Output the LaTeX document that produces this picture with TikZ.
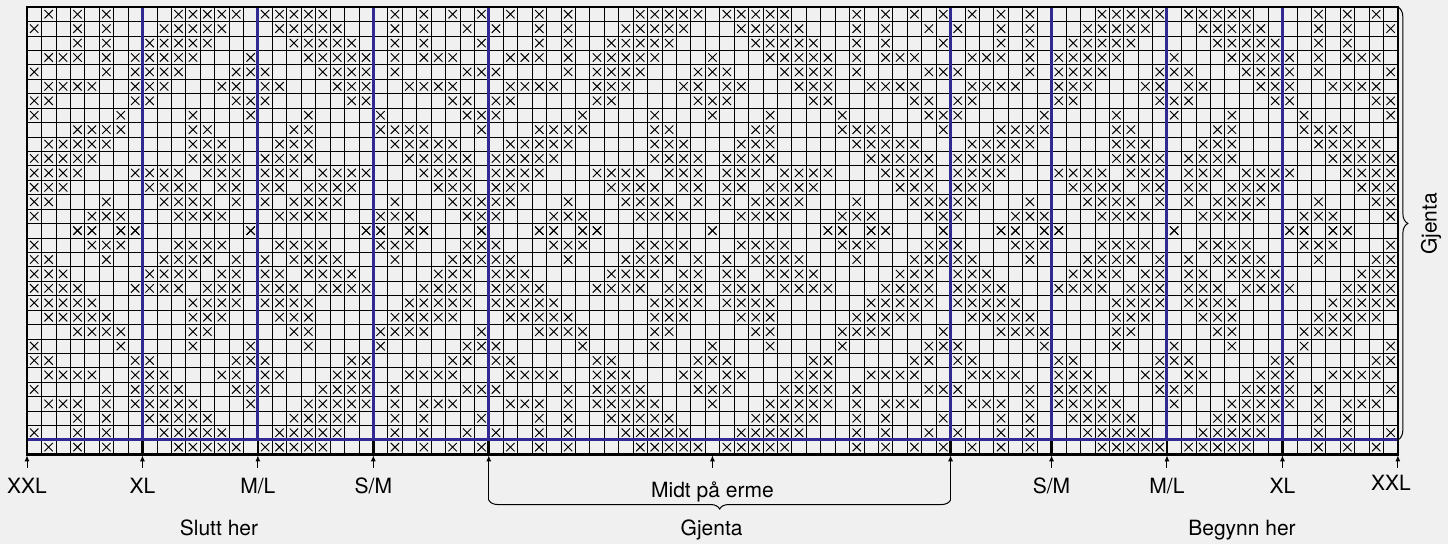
\documentclass[tikz,border=0pt]{standalone}
\usepackage{fontspec}
\setmainfont{TeX Gyre Heros}
\usetikzlibrary{arrows.meta, positioning, calc, decorations.pathreplacing}
\definecolor{ChartBlue}{RGB}{50,40,145}
\definecolor{PaperGray}{RGB}{240,240,240}

\begin{document}
\begin{tikzpicture}[
    x=1pt, y=1pt,
    font=\fontsize{21}{24}\selectfont,
    gridline/.style={black, line width=0.65pt},
    stitch/.style={black, line width=0.95pt},
    sizeline/.style={ChartBlue, line width=3pt},
    chartframe/.style={black, line width=2.6pt},
    marker/.style={-{Latex[length=6pt, width=5pt]}, line width=1pt, shorten >=1pt},
    chartlabel/.style={anchor=base, inner sep=0pt},
    bracket/.style={decorate, line width=1pt},
]
\useasboundingbox[fill=PaperGray] (0,0) rectangle (1448,544);

\begin{scope}[shift={(27pt,537pt)}, x=14.43pt, y=-14.43pt]
% rutenett
\foreach \c in {0,...,95} \draw[gridline] (\c,0) -- (\c,31);
\foreach \r in {0,...,31} \draw[gridline] (0,\r) -- (95,\r);

% masker: rad r og speilrad 30-r, rapport 32
\foreach \r/\cols in {
    0/{1,3,5,10,11,12,13,14,16,17,18,19,20,25,27,29,31},
    1/{0,3,5,9,10,11,12,13,17,18,19,20,21,25,27,30},
    2/{3,5,8,9,10,11,12,18,19,20,21,22,25,27,31},
    3/{1,2,3,5,7,8,9,10,11,15,19,20,21,22,23,25,27,28,29},
    4/{0,5,7,8,9,10,14,15,16,20,21,22,23,25,30,31},
    5/{1,2,3,4,7,8,9,13,14,16,17,21,22,23,26,27,28,29},
    6/{0,1,7,8,14,15,16,22,23,29,30},
    7/{0,6,11,15,19,24,30,31},
    8/{3,4,5,6,11,12,18,19,24,25,26,27,31},
    9/{1,2,3,4,5,11,12,13,17,18,19,25,26,27,28,29},
    10/{0,1,2,3,4,11,12,13,14,16,17,18,19,26,27,28,29,30},
    11/{0,1,2,3,7,8,9,10,12,13,14,16,17,18,20,21,22,23,27,28,29,30},
    12/{0,1,2,8,9,10,11,13,14,16,17,19,20,21,22,28,29,30},
    13/{0,1,5,9,10,11,12,14,16,18,19,20,21,25,29,30,31},
    14/{0,4,5,6,10,11,12,13,17,18,19,20,24,25,26,30,31},
    15/{3,4,6,7,15,23,24,26,27,31}} {
  \pgfmathtruncatemacro\rr{30-\r}
  \foreach \c in \cols {
    \foreach \k in {0,32,64} {
      \pgfmathtruncatemacro\cc{\c+\k}
      \ifnum\cc<95
        \foreach \y in {\r,\rr}
          \draw[stitch] (\cc+.21,\y+.21) -- (\cc+.79,\y+.79)
                        (\cc+.21,\y+.79) -- (\cc+.79,\y+.21);
      \fi
    }
  }
}

% størrelser
\foreach \c in {8,16,24,32,64,71,79,87} {
  \draw[sizeline] (\c,0) -- (\c,30);
  \draw[chartframe] (\c,30) -- (\c,31);
}
\draw[sizeline] (0,30) -- (95,30);
\draw[chartframe] (0,0) rectangle (95,31);

\foreach \n/\c in {sXXLl/0, sXLl/8, sMLl/16, sSMl/24, gA/32, gB/64,
                   sSMr/71, sMLr/79, sXLr/87, sXXLr/95}
  \coordinate (\n) at (\c,31);
\coordinate (mid) at (47.5,31);
\coordinate (rtop) at (95,0);
\coordinate (rbot) at (95,30);
\end{scope}

\foreach \n/\t in {sXXLl/XXL, sXLl/XL, sMLl/{M/L}, sSMl/{S/M},
                   sSMr/{S/M}, sMLr/{M/L}, sXLr/XL} {
  \node[chartlabel] (l\n) at ([yshift=-38.7pt]\n) {\t};
  \draw[marker] ([yshift=-13.5pt]\n) -- (\n);
}
\node[chartlabel] (lsXXLr) at ([xshift=-7pt, yshift=-35.7pt]sXXLr) {XXL};
\draw[marker] ([yshift=-13.5pt]sXXLr) -- (sXXLr);

\node[chartlabel] (lmid) at ([yshift=-42.7pt]mid) {Midt på erme};
\draw[marker] ([yshift=-13.5pt]mid) -- (mid);

% gjenta-klamme
\coordinate (gAlow) at ([yshift=-45.7pt]gA);
\coordinate (gBlow) at ([yshift=-45.7pt]gB);
\coordinate (gtip) at ($(gAlow)!0.5!(gBlow)$);
\draw[marker] (gAlow) -- (gA);
\draw[marker] (gBlow) -- (gB);
\draw[bracket, decoration={brace, mirror, amplitude=9pt}] (gAlow) -- (gBlow);
\node[chartlabel] (gjenta) at ([xshift=-8pt, yshift=-35pt]gtip) {Gjenta};

\node[chartlabel] (slutt) at (219,9) {Slutt her};
\node[chartlabel] (begynn) at (1242,9) {Begynn her};

\draw[bracket, decoration={brace, amplitude=10pt}] (rtop) -- (rbot);
\node[rotate=90, inner sep=0pt] (gjentaR) at (1431,320) {Gjenta};
\end{tikzpicture}
\end{document}
